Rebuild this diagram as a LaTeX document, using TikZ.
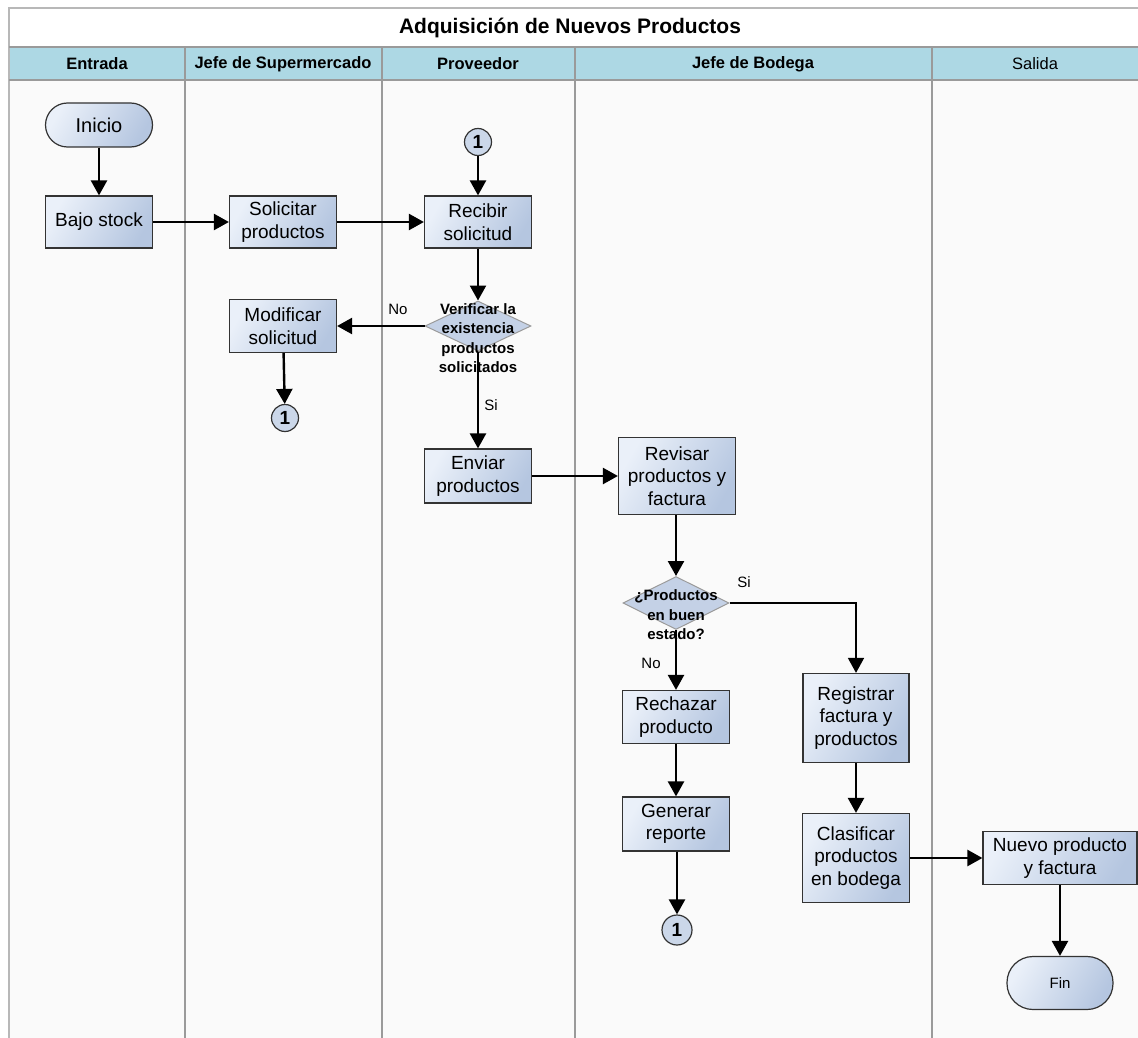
\documentclass[tikz,border=0pt]{standalone}
\usepackage{fontspec}
\setmainfont{Liberation Sans}
\usetikzlibrary{arrows.meta,shapes.geometric}
\definecolor{headfill}{HTML}{ADD8E4}
\definecolor{lanefill}{HTML}{FAFAFA}
\definecolor{laneline}{HTML}{9A9A9A}
\definecolor{boxlight}{HTML}{EAF0F9}
\definecolor{boxdark}{HTML}{B5C6E0}
\definecolor{boxedge}{HTML}{333333}
\tikzset{
  procbox/.style={draw=boxedge, line width=1.2pt, left color=boxlight, right color=boxdark,
    shading angle=60, minimum width=107pt, align=center, font=\fontsize{19}{22.5}\selectfont, inner sep=2pt},
  termbox/.style={draw=boxedge, line width=1.2pt, rounded corners=22pt, left color=boxlight, right color=boxdark,
    shading angle=60, minimum width=107pt, minimum height=44pt, align=center},
  decbox/.style={draw=laneline, line width=1pt, diamond, aspect=2, fill=boxdark!80!white, inner sep=0pt},
  conn/.style={circle, draw=boxedge, line width=1.2pt, fill=boxdark!70!white, minimum size=27pt, inner sep=0pt,
    font=\bfseries\fontsize{19}{19}\selectfont},
  flow/.style={line width=2.4pt, -{Triangle[length=15pt,width=16pt]}},
  lbl/.style={font=\fontsize{15}{17}\selectfont},
  dectext/.style={font=\bfseries\fontsize{15}{19.5}\selectfont, align=center},
  headtext/.style={font=\bfseries\fontsize{16.5}{19}\selectfont},
  lanediv/.style={draw=laneline, line width=1.5pt}
}
\begin{document}
\begin{tikzpicture}[x=1pt,y=-1pt]
\useasboundingbox (0,0) rectangle (1138,1038);
\fill[white] (0,0) rectangle (1138,1038);
% swimlane frame
\fill[lanefill] (9,80) rectangle (1140,1040);
\fill[headfill] (9,47) rectangle (1140,80);
\draw[draw=laneline!70, line width=1.2pt] (1140,8) -- (9,8) -- (9,1040);
\draw[lanediv] (9,47) -- (1140,47);
\draw[lanediv] (9,80) -- (1140,80);
\foreach \lx in {185,382,575,932} \draw[lanediv] (\lx,47) -- (\lx,1040);
% titles
\node[font=\bfseries\fontsize{21}{24}\selectfont] (title) at (570,28) {Adquisición de Nuevos Productos};
\node[headtext] (h1) at (97,64) {Entrada};
\node[headtext] (h2) at (283,64) {Jefe de Supermercado};
\node[headtext] (h3) at (478,64) {Proveedor};
\node[headtext] (h4) at (753,64) {Jefe de Bodega};
\node[font=\fontsize{16.5}{19}\selectfont] (h5) at (1035,64) {Salida};
% nodes
\node[termbox, font=\fontsize{20}{22}\selectfont] (inicio) at (99,125) {Inicio};
\node[procbox, minimum height=52pt] (bajo) at (99,222) {Bajo stock};
\node[procbox, minimum height=52pt] (solicitar) at (283,222) {Solicitar\\productos};
\node[conn] (c1) at (478,142) {1};
\node[procbox, minimum height=52pt] (recibir) at (478,222) {Recibir\\solicitud};
\node[decbox, minimum width=106pt, minimum height=50pt] (verif) at (478,326) {};
\node[dectext] (verift) at (478,338) {Verificar la\\existencia\\productos\\solicitados};
\node[procbox, minimum height=53pt] (modif) at (283,326) {Modificar\\solicitud};
\node[conn] (c2) at (285,418) {1};
\node[procbox, minimum height=54pt] (enviar) at (478,476) {Enviar\\productos};
\node[procbox, minimum width=117pt, minimum height=77pt] (revisar) at (677,476) {Revisar\\productos y\\factura};
\node[decbox, minimum width=106pt, minimum height=53pt] (buen) at (676,603) {};
\node[dectext] (buent) at (676,615) {¿Productos\\en buen\\estado?};
\node[procbox, minimum height=53pt] (rechazar) at (676,717) {Rechazar\\producto};
\node[procbox, minimum width=106pt, minimum height=89pt] (registrar) at (856,718) {Registrar\\factura y\\productos};
\node[procbox, minimum height=54pt] (generar) at (676,824) {Generar\\reporte};
\node[conn, minimum size=30pt] (c3) at (677,930) {1};
\node[procbox, minimum width=107pt, minimum height=89pt] (clasif) at (856,858) {Clasificar\\productos\\en bodega};
\node[procbox, minimum width=154pt, minimum height=53pt] (nuevo) at (1060,858) {Nuevo producto\\y factura};
\node[termbox, minimum width=106pt, minimum height=53pt, rounded corners=26pt, font=\fontsize{15}{17}\selectfont] (fin) at (1060,983) {Fin};
% labels
\node[lbl] (lno1) at (398,309) {No};
\node[lbl] (lsi1) at (491,405) {Si};
\node[lbl] (lsi2) at (744,582) {Si};
\node[lbl] (lno2) at (651,663) {No};
% connectors
\draw[flow] (inicio) -- (bajo);
\draw[flow] (bajo) -- (solicitar);
\draw[flow] (solicitar) -- (recibir);
\draw[flow] (c1) -- (recibir);
\draw[flow] (recibir) -- (verif.north);
\draw[flow] (verif.west) -- (verif.west -| modif.east);
\draw[flow] (modif) -- (c2);
\draw[flow] (verif.south) -- (enviar);
\draw[flow] (enviar) -- (revisar);
\draw[flow] (revisar.south -| buen.north) -- (buen.north);
\draw[flow] (buen.south) -- (rechazar);
\draw[flow, line width=1.6pt] (buen.east) -| (registrar.north);
\draw[flow] (rechazar) -- (generar);
\draw[flow] (generar.south -| c3.north) -- (c3);
\draw[flow] (registrar) -- (clasif);
\draw[flow] (clasif.east) -- (clasif.east -| nuevo.west);
\draw[flow] (nuevo) -- (fin);
\end{tikzpicture}
\end{document}
